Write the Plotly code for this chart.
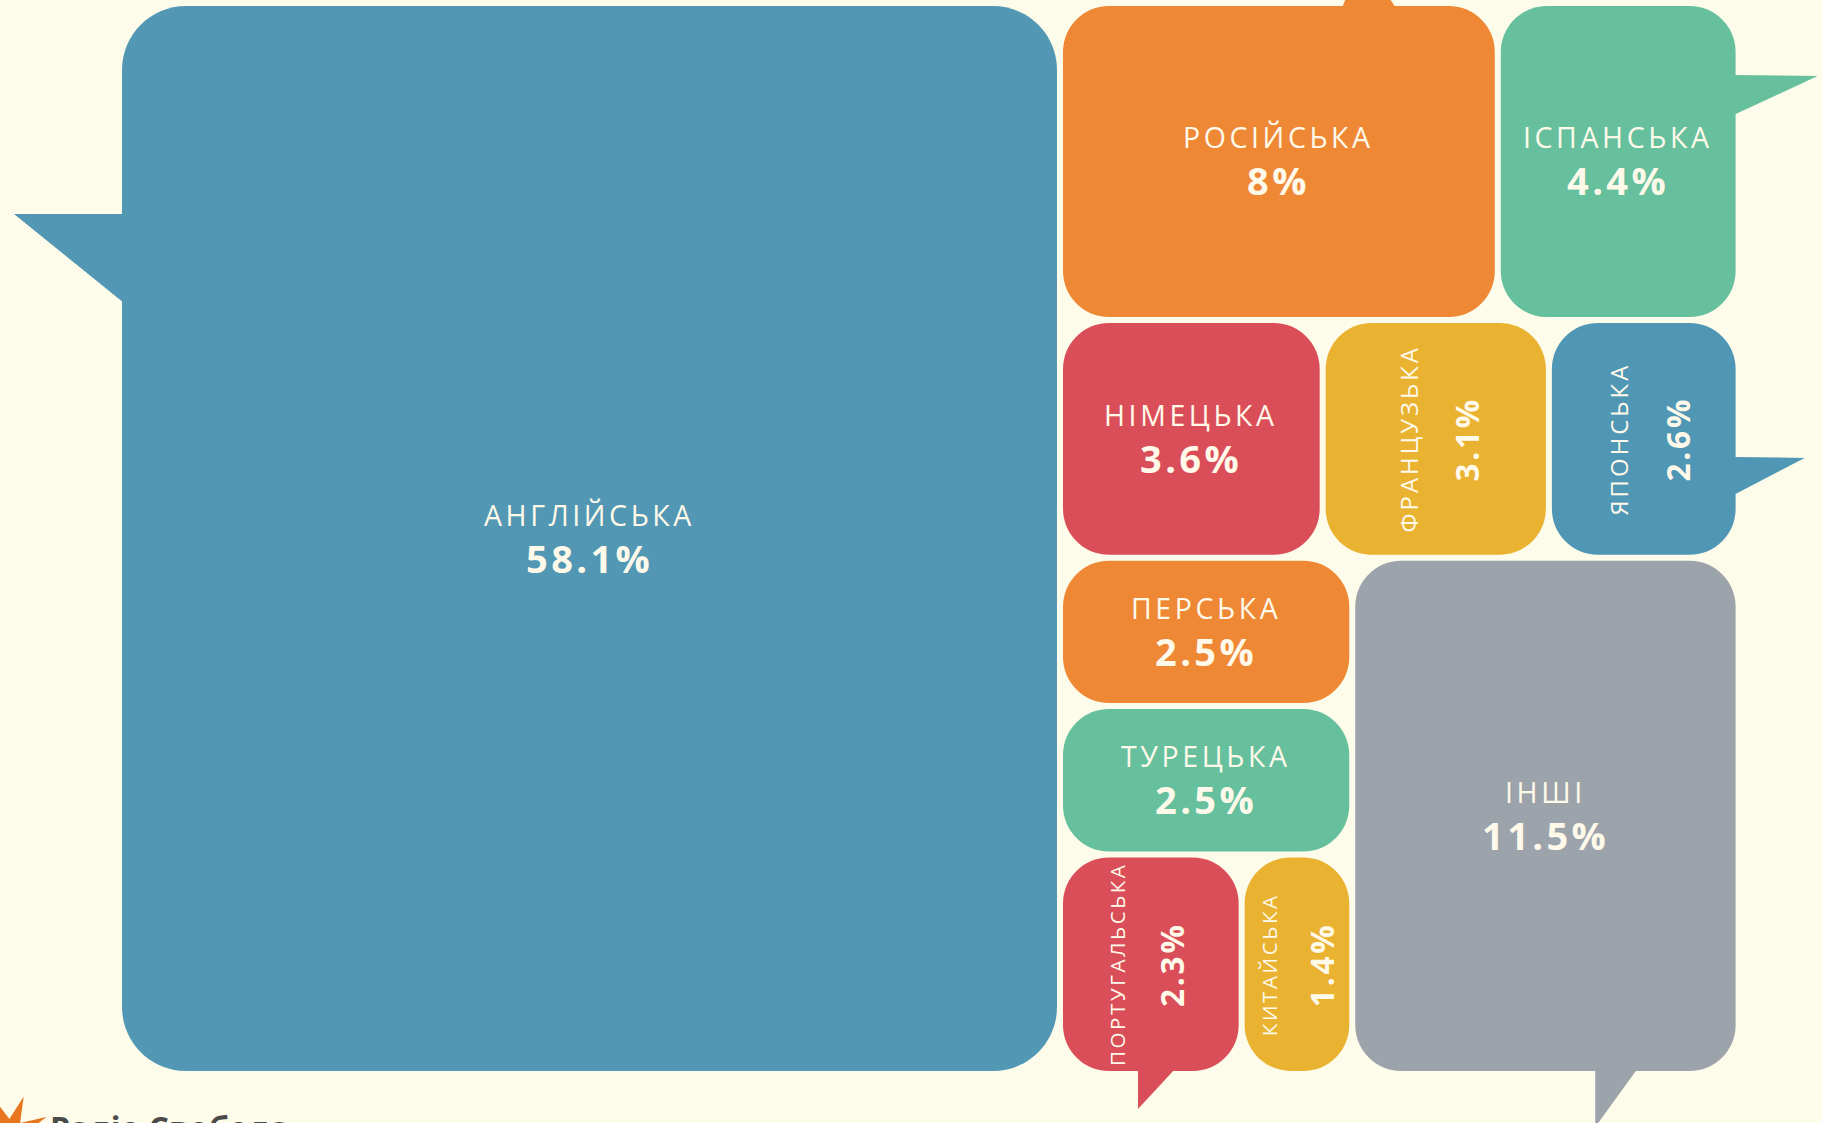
import math
import plotly.graph_objects as go

# ---------------- data ----------------
languages = ["АНГЛІЙСЬКА", "РОСІЙСЬКА", "ІСПАНСЬКА", "НІМЕЦЬКА", "ФРАНЦУЗЬКА",
             "ЯПОНСЬКА", "ПЕРСЬКА", "ТУРЕЦЬКА", "ПОРТУГАЛЬСЬКА", "КИТАЙСЬКА", "ІНШІ"]
shares = [58.1, 8, 4.4, 3.6, 3.1, 2.6, 2.5, 2.5, 2.3, 1.4, 11.5]
colors = ["#5297B3", "#EE8835", "#66C09D", "#DA4E59", "#EAB231", "#5096B5",
          "#EE8835", "#66C09D", "#DA4E59", "#EAB231", "#9CA3AA"]

# slice-and-dice nesting of the treemap ("h" = side by side, "v" = stacked)
tree = ("h", [0, ("v", [("h", [1, 2]),
                        ("h", [3, 4, 5]),
                        ("h", [("v", [6, 7, ("h", [8, 9])]), 10])])])

# ---------------- style ----------------
BG = "#FDFBE9"
TXT = "#FFF9EA"
REGION = (119.0, 3.0, 1738.6, 1074.0)   # x0, y0, x1, y1 in page pixels
GAP = 3.0
LABEL_SIZE, PCT_SIZE = 28.5, 38
vert_off = {4: (-27, 31), 5: (-25, 34), 8: (-34, 20), 9: (-28, 24)}
label_scale = {4: 0.84, 5: 0.84, 8: 0.72, 9: 0.72}
pct_scale = {4: 0.83, 5: 0.83, 8: 0.83, 9: 0.83}
radius = {0: 64}
DEFAULT_R = 46
# tails: side, start offset along edge, base width, length, tip offset along edge
tails = {
    0: ("left", 208, 89, 108, 0),
    1: ("top", 279, 54, 48, 20),
    2: ("right", 69, 40, 82, 1),
    5: ("right", 134, 38, 69, 1),
    8: ("bottom", 75, 37, 38, 0),
    10: ("bottom", 240, 42, 56, 0),
}


def node_value(n):
    if isinstance(n, int):
        return shares[n]
    return sum(node_value(c) for c in n[1])


boxes = {}


def layout(n, x0, y0, x1, y1):
    if isinstance(n, int):
        boxes[n] = (x0, y0, x1, y1)
        return
    orient, kids = n
    total = node_value(n)
    pos = x0 if orient == "h" else y0
    for c in kids:
        frac = node_value(c) / total
        if orient == "h":
            w = (x1 - x0) * frac
            layout(c, pos, y0, pos + w, y1)
            pos += w
        else:
            h = (y1 - y0) * frac
            layout(c, x0, pos, x1, pos + h)
            pos += h


layout(tree, *REGION)


def rrect(x0, y0, x1, y1, r):
    r = min(r, 0.5 * (x1 - x0), 0.5 * (y1 - y0))
    k = 0.5523 * r
    return (f"M{x0+r},{y0} L{x1-r},{y0} C{x1-r+k},{y0} {x1},{y0+r-k} {x1},{y0+r} "
            f"L{x1},{y1-r} C{x1},{y1-r+k} {x1-r+k},{y1} {x1-r},{y1} "
            f"L{x0+r},{y1} C{x0+r-k},{y1} {x0},{y1-r+k} {x0},{y1-r} "
            f"L{x0},{y0+r} C{x0},{y0+r-k} {x0+r-k},{y0} {x0+r},{y0} Z")


def tail_path(b, spec):
    x0, y0, x1, y1 = b
    side, start, base, length, tip = spec
    if side == "left":
        a, c = y0 + start, y0 + start + base
        return f"M{x0+2},{a} L{x0-length},{a+tip} L{x0+2},{c} Z"
    if side == "right":
        a, c = y0 + start, y0 + start + base
        return f"M{x1-2},{a} L{x1+length},{a+tip} L{x1-2},{c} Z"
    if side == "top":
        a, c = x0 + start, x0 + start + base
        return f"M{a},{y0+2} L{a+tip},{y0-length} L{c},{y0+2} Z"
    a, c = x0 + start, x0 + start + base
    return f"M{a},{y1-2} L{a+tip},{y1+length} L{c},{y1-2} Z"


shapes = []
annotations = []
cx_list, cy_list, hover = [], [], []
FONT = "Open Sans, Noto Sans, sans-serif"
for i, name in enumerate(languages):
    bx0, by0, bx1, by1 = boxes[i]
    b = (bx0 + GAP, by0 + GAP, bx1 - GAP, by1 - GAP)
    col = colors[i]
    shapes.append(dict(type="path", path=rrect(*b, radius.get(i, DEFAULT_R)),
                       xref="x", yref="y", fillcolor=col, line=dict(width=0), layer="below"))
    if i in tails:
        shapes.append(dict(type="path", path=tail_path(b, tails[i]),
                           xref="x", yref="y", fillcolor=col, line=dict(width=0), layer="below"))
    cx, cy = (b[0] + b[2]) / 2, (b[1] + b[3]) / 2
    cx_list.append(cx)
    cy_list.append(cy)
    hover.append(f"{name}: {shares[i]:g}%")
    ls = label_scale.get(i, 1.0)
    ps = pct_scale.get(i, 1.0)
    lab = f'<span style="letter-spacing:{3.6*ls:.1f}px">{name}</span>'
    pct = f'<span style="letter-spacing:{3.4*ps:.1f}px"><b>{shares[i]:g}%</b></span>'
    lf = dict(family=FONT, size=LABEL_SIZE * ls, color=TXT)
    pf = dict(family=FONT, size=PCT_SIZE * ps, color=TXT)
    if i in vert_off:
        lo, po = vert_off[i]
        annotations.append(dict(x=cx + lo, y=cy, text=lab, textangle=-90, showarrow=False,
                                xref="x", yref="y", xanchor="center", yanchor="middle", font=lf))
        annotations.append(dict(x=cx + po, y=cy, text=pct, textangle=-90, showarrow=False,
                                xref="x", yref="y", xanchor="center", yanchor="middle", font=pf))
    else:
        annotations.append(dict(x=cx, y=cy - 24, text=lab, showarrow=False,
                                xref="x", yref="y", xanchor="center", yanchor="middle", font=lf))
        annotations.append(dict(x=cx, y=cy + 19, text=pct, showarrow=False,
                                xref="x", yref="y", xanchor="center", yanchor="middle", font=pf))

# logo (partially cut at the bottom edge, as in the source image)
pts = []
for k in range(16):
    ang = math.pi * k / 8 - math.pi / 2 + 0.35
    r = 40 if k % 2 == 0 else 15
    pts.append((10 + r * math.cos(ang), 1134 + r * math.sin(ang)))
shapes.append(dict(type="path", xref="x", yref="y", fillcolor="#E8761E", line=dict(width=0),
                   path="M" + " L".join(f"{x:.1f},{y:.1f}" for x, y in pts) + " Z"))
annotations.append(dict(x=48, y=1104, text="<b>Радіо Свобода</b>", showarrow=False,
                        xref="x", yref="y", xanchor="left", yanchor="top",
                        font=dict(family="Open Sans, sans-serif", size=32, color="#4A4A4A")))

fig = go.Figure(go.Scatter(x=cx_list, y=cy_list, mode="markers", text=hover,
                           hoverinfo="text", marker=dict(size=1, opacity=0),
                           showlegend=False))
fig.update_layout(
    width=1822, height=1123, margin=dict(l=0, r=0, t=0, b=0),
    paper_bgcolor=BG, plot_bgcolor=BG,
    xaxis=dict(range=[0, 1822], visible=False, fixedrange=True),
    yaxis=dict(range=[1123, 0], visible=False, fixedrange=True),
    shapes=shapes, annotations=annotations,
)
fig.write_html("out.html", config={"displayModeBar": False},
               post_script="document.body.style.margin='0';document.body.style.overflow='hidden';"
                           "document.body.style.background='" + BG + "';")
